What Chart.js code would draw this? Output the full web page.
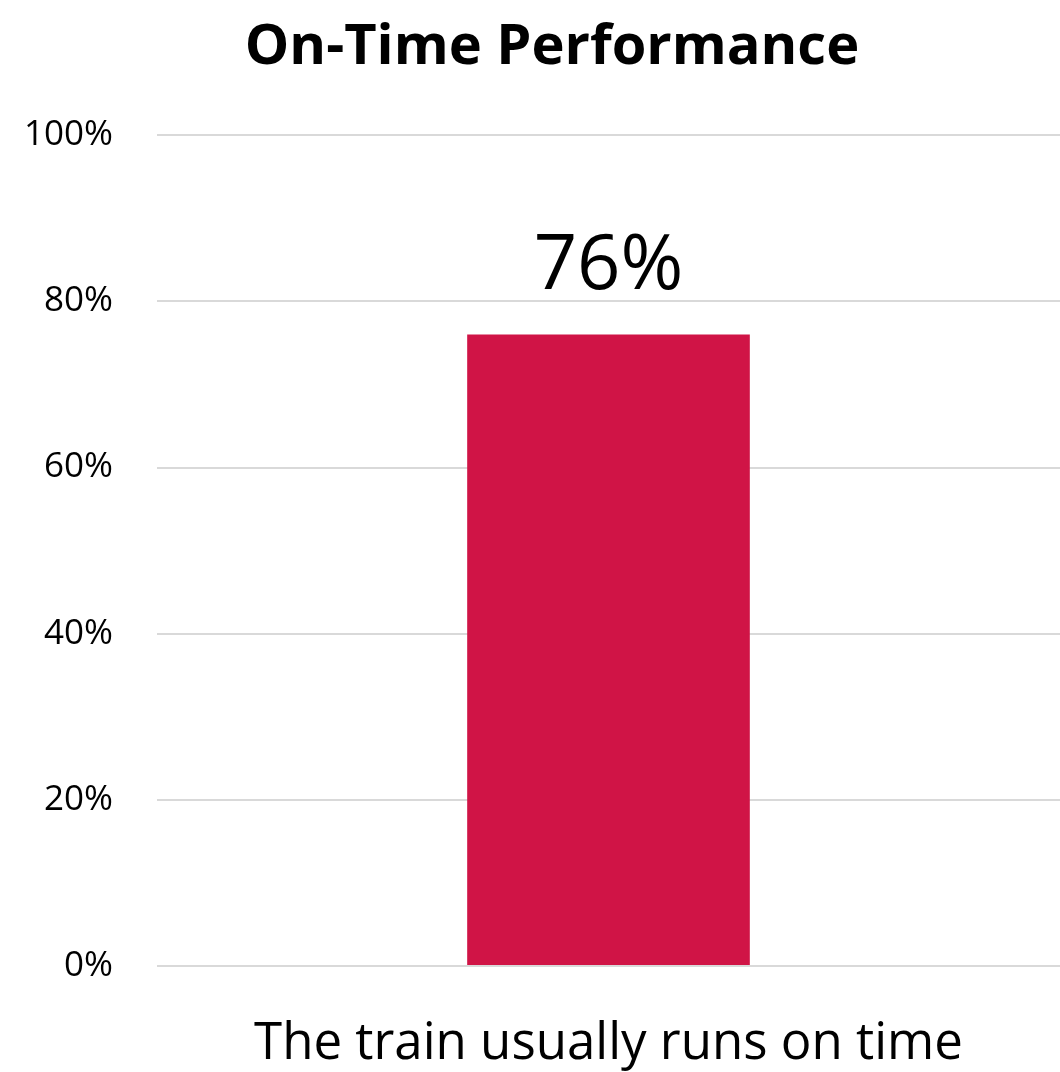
<!DOCTYPE html>
<html>
<head>
<meta charset="utf-8">
<script src="https://cdn.jsdelivr.net/npm/chart.js@4"></script>
<style>
html,body{margin:0;padding:0;background:#fff;}
#wrap{width:1060px;height:1072px;}
</style>
</head>
<body>
<div id="wrap"><canvas id="c" width="1060" height="1072"></canvas></div>
<script>
const categories = ["The train usually runs on time"];
const values = [76];
const tickValues = [0, 20, 40, 60, 80, 100];
const chartTitle = "On-Time Performance";

const FONT = "'Open Sans', sans-serif";

const valueLabels = {
  id: 'valueLabels',
  afterDatasetsDraw(chart) {
    const ctx = chart.ctx;
    const meta = chart.getDatasetMeta(0);
    ctx.save();
    ctx.font = "76px " + FONT;
    ctx.fillStyle = "#000";
    ctx.textAlign = "center";
    ctx.textBaseline = "alphabetic";
    meta.data.forEach((bar, i) => {
      ctx.fillText(values[i] + "%", bar.x, bar.y - 46);
    });
    ctx.restore();
  }
};

const titleDraw = {
  id: 'titleDraw',
  afterDraw(chart) {
    const ctx = chart.ctx;
    ctx.save();
    ctx.font = "bold 56px " + FONT;
    ctx.fillStyle = "#000";
    ctx.textAlign = "center";
    ctx.textBaseline = "alphabetic";
    ctx.fillText(chartTitle, 552, 64);
    ctx.restore();
  }
};

new Chart(document.getElementById('c'), {
  type: 'bar',
  data: {
    labels: categories,
    datasets: [{
      data: values,
      backgroundColor: '#D01446',
      borderWidth: 0,
      categoryPercentage: 1,
      barPercentage: 0.313
    }]
  },
  options: {
    responsive: false,
    animation: false,
    layout: { padding: { left: 0, right: 0, top: 0, bottom: 0 } },
    plugins: {
      legend: { display: false },
      tooltip: { enabled: false },
      title: {
        display: true,
        text: '',
        font: { family: FONT, size: 46, weight: 'bold' },
        padding: { top: 12, bottom: 68 }
      }
    },
    scales: {
      x: {
        grid: { display: false, drawTicks: false },
        border: { display: false },
        ticks: { color: '#000', font: { family: FONT, size: 51 }, padding: 48 },
        afterFit(scale) { scale.height = 106; }
      },
      y: {
        min: 0, max: 100,
        afterBuildTicks(scale) { scale.ticks = tickValues.map(v => ({ value: v })); },
        grid: { color: '#d9d9d9', lineWidth: 2, drawTicks: false },
        border: { display: false },
        ticks: {
          color: '#000',
          font: { family: FONT, size: 35 },
          padding: 44,
          callback: v => v + '%'
        },
        afterFit(scale) { scale.width = 157; }
      }
    }
  },
  plugins: [valueLabels, titleDraw]
});
</script>
</body>
</html>
